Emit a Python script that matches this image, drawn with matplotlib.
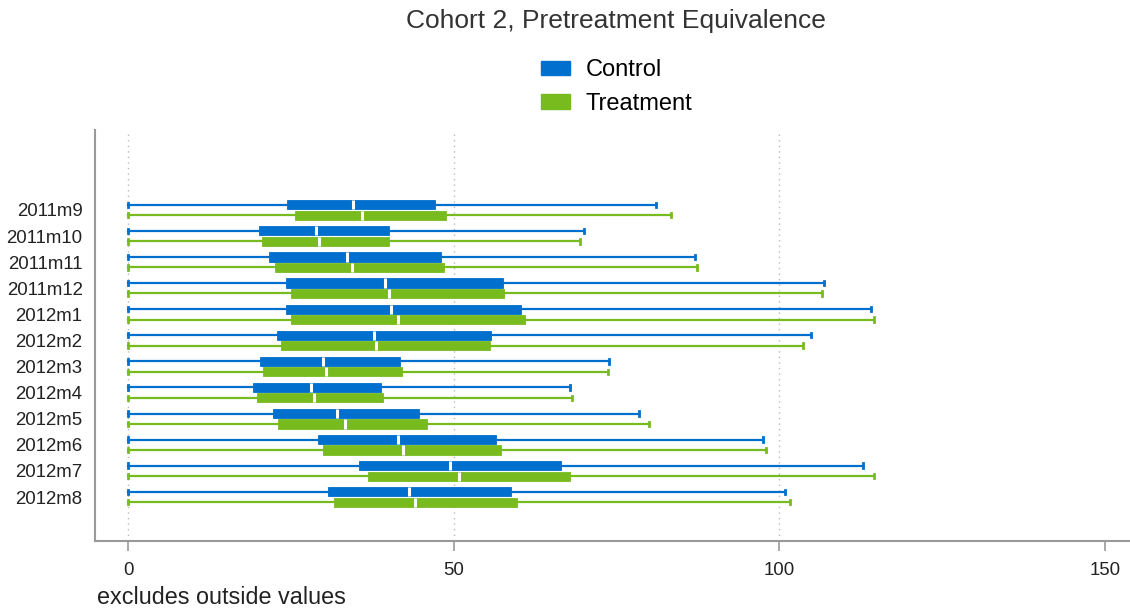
#
# Horizontal box plots, control vs treatment, per month (Stata-style look).
#

import matplotlib
matplotlib.use('Agg')
import matplotlib.pyplot as plt
from matplotlib.patches import Patch

plt.rcParams['font.family'] = ['Liberation Sans', 'DejaVu Sans']

months = ['2011m9', '2011m10', '2011m11', '2011m12', '2012m1', '2012m2',
          '2012m3', '2012m4', '2012m5', '2012m6', '2012m7', '2012m8']

# lower whisker, q1, median, q3, upper whisker
control_lo = [0] * 12
control_q1 = [24.4, 20.1, 21.7, 24.3, 24.2, 22.9, 20.2, 19.2, 22.2, 29.1, 35.4, 30.7]
control_med = [34.5, 28.9, 33.6, 39.4, 40.4, 37.8, 30.0, 28.1, 32.1, 41.4, 49.4, 43.2]
control_q3 = [47.2, 40.1, 48.0, 57.5, 60.4, 55.8, 41.8, 38.8, 44.7, 56.5, 66.5, 58.8]
control_hi = [81.1, 70.0, 87.1, 106.9, 114.0, 104.9, 73.9, 67.8, 78.4, 97.5, 112.9, 100.8]

treat_lo = [0] * 12
treat_q1 = [25.7, 20.5, 22.5, 25.0, 25.0, 23.5, 20.8, 19.8, 23.1, 29.9, 36.9, 31.6]
treat_med = [36.0, 29.4, 34.4, 40.0, 41.4, 38.1, 30.4, 28.5, 33.3, 42.2, 50.8, 44.1]
treat_q3 = [48.8, 40.1, 48.5, 57.8, 61.0, 55.6, 42.0, 39.2, 45.9, 57.2, 67.9, 59.7]
treat_hi = [83.3, 69.4, 87.3, 106.5, 114.6, 103.7, 73.7, 68.2, 80.0, 97.9, 114.5, 101.7]

BLUE = '#006fcd'
GREEN = '#78bb1f'


def make_stats(lo, q1, med, q3, hi):
    return [dict(whislo=a, q1=b, med=c, q3=d, whishi=e, fliers=[])
            for a, b, c, d, e in zip(lo, q1, med, q3, hi)]


def draw(ax, stats, offset, color):
    pos = [i + offset for i in range(len(stats))]
    ax.bxp(stats, positions=pos, widths=0.35, orientation='horizontal',
           patch_artist=True, showfliers=False, capwidths=0.17,
           boxprops=dict(facecolor=color, edgecolor=color, linewidth=0.6),
           medianprops=dict(color='white', linewidth=2.2),
           whiskerprops=dict(color=color, linewidth=1.6),
           capprops=dict(color=color, linewidth=2.0),
           manage_ticks=False, zorder=3)


fig = plt.figure(figsize=(11.3, 6.1), dpi=100)
ax = fig.add_axes([95 / 1130, 1 - 541 / 610, 1 - 95 / 1130, (541 - 130) / 610])

draw(ax, make_stats(control_lo, control_q1, control_med, control_q3, control_hi), -0.2, BLUE)
draw(ax, make_stats(treat_lo, treat_q1, treat_med, treat_q3, treat_hi), 0.2, GREEN)

# x: 0 at px 128, 150 at px 1105
ppu = (1105 - 128) / 150.0
ax.set_xlim(-(128 - 95) / ppu, (1130 - 128) / ppu)
ax.set_ylim(11 + (541 - 497) / 26.1, -(210 - 130) / 26.1)

ax.set_yticks(range(len(months)))
ax.set_yticklabels(months, fontsize=13.4, color='#222222')
ax.tick_params(axis='y', length=0, pad=9)
ax.set_xticks([0, 50, 100, 150])
ax.tick_params(axis='x', length=7, width=1.2, color='#999999',
               labelsize=13.4, labelcolor='#222222', pad=8)

for x in [0, 50, 100]:
    ax.axvline(x, color='#bbbbbb', linestyle=(0, (1, 3)), linewidth=1.0, zorder=1)

for side in ['top', 'right']:
    ax.spines[side].set_visible(False)
for side in ['left', 'bottom']:
    ax.spines[side].set_color('#999999')
    ax.spines[side].set_linewidth(1.5)

fig.text(616 / 1130, 1 - 21 / 610, 'Cohort 2, Pretreatment Equivalence',
         ha='center', va='center', fontsize=19, color='#333333')

handles = [Patch(facecolor=BLUE, edgecolor=BLUE, label='Control'),
           Patch(facecolor=GREEN, edgecolor=GREEN, label='Treatment')]
fig.legend(handles=handles, loc='center left',
           bbox_to_anchor=(524 / 1130, 1 - 87 / 610), frameon=False,
           fontsize=17, handlelength=1.25, handleheight=0.55,
           handletextpad=0.65, labelspacing=0.5, borderpad=0.2)

fig.text(97 / 1130, 1 - 598 / 610, 'excludes outside values',
         ha='left', va='center', fontsize=16.8, color='#222222')

fig.savefig('out.png', dpi=100)
